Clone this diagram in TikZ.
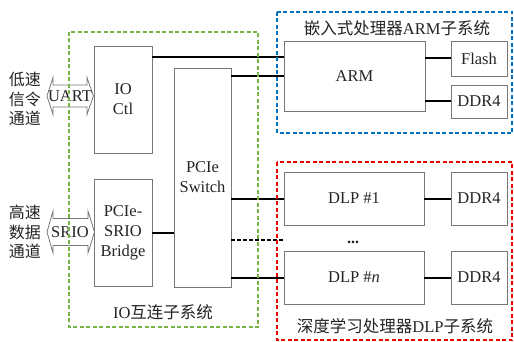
\documentclass[tikz,border=0pt]{standalone}
\usepackage{fontspec}
\setmainfont{Liberation Serif}
\newfontfamily\cjk{Noto Sans CJK SC}
\definecolor{gbox}{RGB}{118,180,70}
\definecolor{bbox}{RGB}{0,112,192}
\definecolor{rbox}{RGB}{238,0,0}
\definecolor{edge}{RGB}{120,120,120}
\definecolor{txt}{RGB}{35,35,35}
\tikzset{
  blk/.style={draw=edge, line width=0.9pt, rectangle, inner sep=0pt, text=txt, align=center,
    font=\fontsize{16.5}{20}\selectfont},
  link/.style={line width=2pt, black},
  grp/.style={line width=2.6pt, dash pattern=on 4pt off 2.5pt},
  lbl/.style={inner sep=0pt, text=txt, font=\fontsize{16.5}{20}\selectfont, align=center},
  arr/.style={draw=edge, line width=0.8pt, line join=miter}
}
\begin{document}
\begin{tikzpicture}[x=1pt,y=-1pt]
\useasboundingbox (0,0) rectangle (514,342);
% blocks
\node[blk, minimum width=58pt, minimum height=107pt] (ioctl) at (123,99.5) {IO\\Ctl};
\node[blk, minimum width=57pt, minimum height=219pt] (switch) at (202.5,177.5) {PCIe\\Switch};
\node[blk, minimum width=58pt, minimum height=107pt] (bridge) at (123,232.5) {PCIe-\\SRIO\\Bridge};
\node[blk, minimum width=141pt, minimum height=70pt] (arm) at (354.5,76) {ARM};
\node[blk, minimum width=56pt, minimum height=35pt] (flash) at (479,58.5) {Flash};
\node[blk, minimum width=56pt, minimum height=33pt] (ddra) at (479,101.5) {DDR4};
\node[blk, minimum width=140pt, minimum height=53pt] (dlpa) at (354,198.5) {DLP \#1};
\node[blk, minimum width=56pt, minimum height=53pt] (ddrb) at (479,198.5) {DDR4};
\node[blk, minimum width=140pt, minimum height=53pt] (dlpn) at (354,277.5) {DLP \#\textit{n}};
\node[blk, minimum width=56pt, minimum height=53pt] (ddrc) at (479,277.5) {DDR4};
% double arrows
\draw[arr] (47,96) -- (53,77.5) -- (53,85) -- (87,85) -- (87,77.5) -- (93.5,96)
  -- (87,114.5) -- (87,107) -- (53,107) -- (53,114.5) -- cycle;
\node[lbl] (uart) at (70,96.5) {UART};
\draw[arr] (47,232) -- (53,211) -- (53,218.5) -- (88,218.5) -- (88,211) -- (94.5,232)
  -- (88,253) -- (88,245.5) -- (53,245.5) -- (53,253) -- cycle;
\node[lbl] (srio) at (70,232) {SRIO};
% side labels
\node[lbl, font=\cjk\fontsize{16}{19.5}\selectfont] (low) at (25,99) {低速\\信令\\通道};
\node[lbl, font=\cjk\fontsize{16}{19.5}\selectfont] (high) at (25,232) {高速\\数据\\通道};
% connectors
\draw[link] ([yshift=42.5pt]ioctl.east) -- ([yshift=42.5pt]ioctl.east -| arm.west);
\draw[link] (arm.west -| switch.east) -- (arm.west);
\draw[link] (flash.west -| arm.east) -- (flash.west);
\draw[link] (ddra.west -| arm.east) -- (ddra.west);
\draw[link] (bridge.east) -- (bridge.east -| switch.west);
\draw[link] (dlpa.west -| switch.east) -- (dlpa.west);
\draw[link] (dlpn.west -| switch.east) -- (dlpn.west);
\draw[link] (dlpa) -- (ddrb);
\draw[link] (dlpn) -- (ddrc);
\coordinate (dots) at (353,240);
\draw[line width=2pt, dash pattern=on 3.5pt off 2.5pt] (switch.east |- dots) -- (dlpa.west |- dots);
\node[lbl, font=\fontsize{16}{20}\selectfont\bfseries, anchor=base] at (353,243) {...};
% groups
\draw[grp, draw=gbox] (69,32) rectangle (258,327);
\draw[grp, draw=bbox] (277,12) rectangle (512,133);
\draw[grp, draw=rbox] (277,162) rectangle (512,340);
\node[lbl] at (397,28) {{\cjk 嵌入式处理器}ARM{\cjk 子系统}};
\node[lbl] at (163,312) {IO{\cjk 互连子系统}};
\node[lbl] at (395,326) {{\cjk 深度学习处理器}DLP{\cjk 子系统}};
\end{tikzpicture}
\end{document}
